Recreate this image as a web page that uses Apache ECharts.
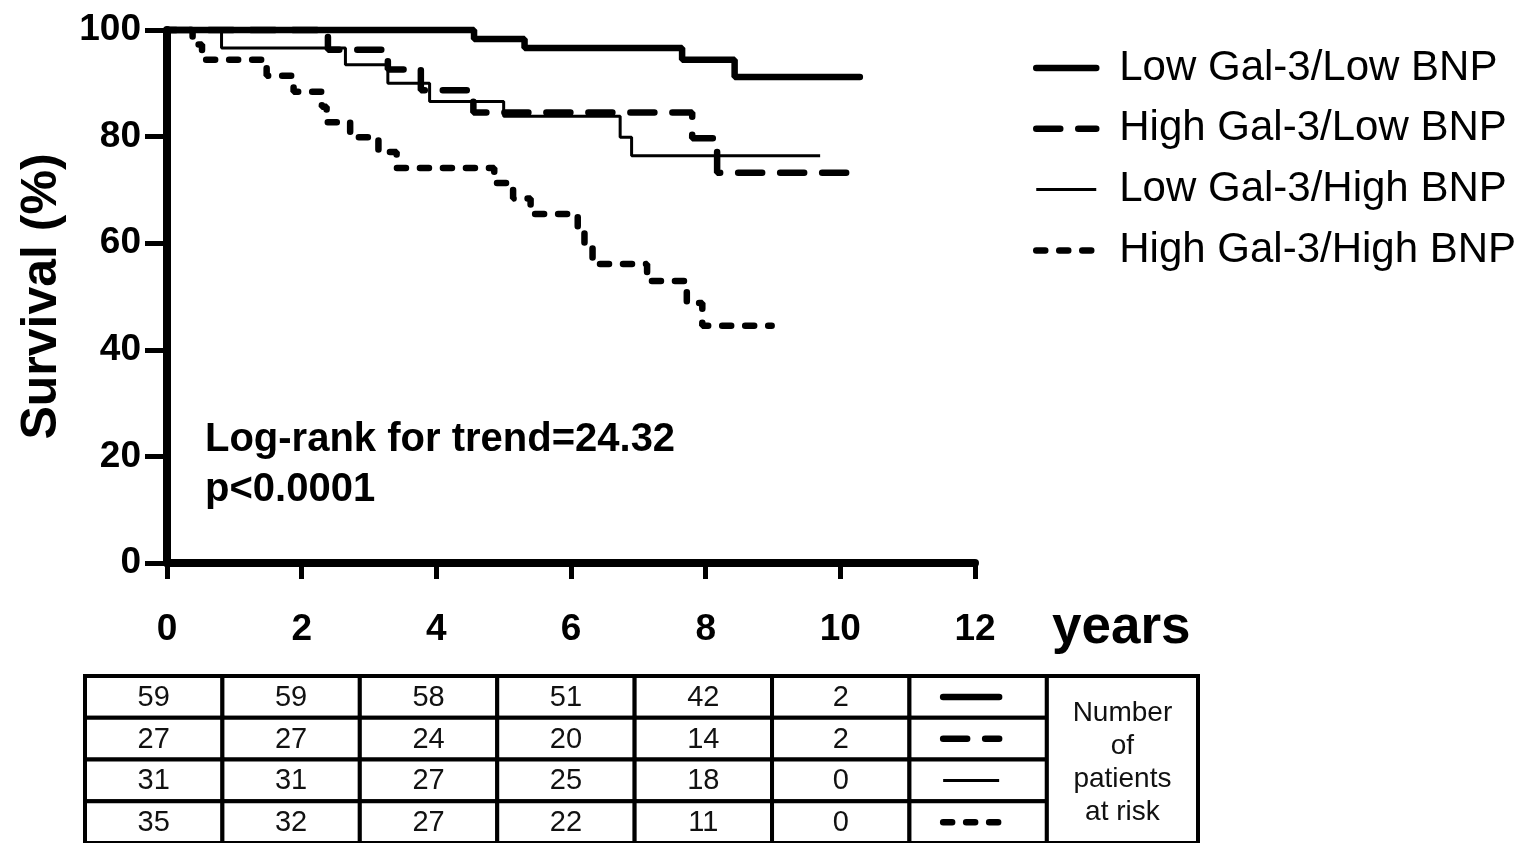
<!DOCTYPE html>
<html><head><meta charset="utf-8">
<script src="https://cdn.jsdelivr.net/npm/echarts@6/dist/echarts.min.js"></script>
<style>html,body{margin:0;padding:0;background:#fff;}#c{width:1538px;height:843px;}</style>
</head><body><div id="c"></div>
<script>
// ---------- data ----------
const seriesNames = ['Low Gal-3/Low BNP', 'High Gal-3/Low BNP', 'Low Gal-3/High BNP', 'High Gal-3/High BNP'];
// Kaplan-Meier steps: [years, survival %] (value after the event at that time)
const lowGalLowBnp = [[0,100],[4.56,98.3],[5.31,96.6],[7.65,94.4],[8.43,91.2],[10.29,91.2]];
const highGalLowBnp = [[0,100],[2.39,96.3],[3.28,92.6],[3.77,88.7],[4.55,84.5],[7.8,79.7],[8.17,73.2],[10.27,73.2]];
const lowGalHighBnp = [[0,100],[0.81,96.6],[2.65,93.5],[3.28,90.0],[3.9,86.6],[5.0,83.8],[6.73,79.9],[6.9,76.4],[9.7,76.4]];
const highGalHighBnp = [[0,100],[0.38,97.3],[0.52,94.4],[1.48,91.4],[1.88,88.4],[2.3,85.6],[2.37,82.7],[2.72,79.9],[3.14,77.1],[3.41,74.1],[4.86,71.3],[5.14,68.4],[5.4,65.5],[6.1,62.5],[6.2,59.3],[6.32,56.1],[7.13,52.9],[7.72,48.8],[7.95,44.5],[8.98,44.5]];
const xTickValues = [0,2,4,6,8,10,12];
const yTickValues = [0,20,40,60,80,100];
const riskYears = [0,2,4,6,8,10];
const riskLowLow = [59,59,58,51,42,2];
const riskHighLow = [27,27,24,20,14,2];
const riskLowHigh = [31,31,27,25,18,0];
const riskHighHigh = [35,32,27,22,11,0];
const riskLabel = 'Number\nof\npatients\nat risk';
const yAxisTitle = 'Survival (%)';
const xAxisTitle = 'years';
const logRankText = 'Log-rank for trend=24.32';
const pValueText = 'p<0.0001';

// ---------- styles ----------
const FF = '"Liberation Sans", Arial, sans-serif';
const lineStyles = [
  {color:'#000', width:6.5, type:'solid', cap:'round'},
  {color:'#000', width:6.5, type:[24,18], cap:'round'},
  {color:'#000', width:3, type:'solid', cap:'butt'},
  {color:'#000', width:6.5, type:[9,14], cap:'round'}
];
const curves = [lowGalLowBnp, highGalLowBnp, lowGalHighBnp, highGalHighBnp];
const riskRows = [riskLowLow, riskHighLow, riskLowHigh, riskHighHigh];

// table cells built from arrays
const tableCells = [];
riskRows.forEach((row, r) => {
  row.forEach((v, c) => tableCells.push({col:c, row:r, kind:'num', text:String(v)}));
  tableCells.push({col:riskYears.length, row:r, kind:'line', style:lineStyles[r]});
});
tableCells.push({col:riskYears.length + 1, row:0, kind:'label', text:riskLabel});

const chart = echarts.init(document.getElementById('c'), null, {renderer:'canvas'});

const series = curves.map((d, i) => ({
  name: seriesNames[i],
  type: 'line',
  xAxisIndex: 0, yAxisIndex: 0,
  data: d,
  step: 'end',
  symbol: 'none',
  color: '#000',
  itemStyle: {color:'#000'},
  lineStyle: lineStyles[i],
  clip: false,
  silent: true,
  z: 3
}));

series.push({
  type: 'custom',
  xAxisIndex: 1, yAxisIndex: 1,
  clip: false,
  silent: true,
  data: tableCells.map(c => [c.col, c.row]),
  renderItem: function (params, api) {
    const cell = tableCells[params.dataIndex];
    const cs = params.coordSys;
    const size = api.size([1, 1]);
    const bandH = size[1];
    const c = api.coord([cell.col, cell.row]);
    const x0 = c[0];
    let x1 = api.coord([cell.col + 1, cell.row])[0];
    let y0 = c[1] - bandH / 2, y1 = c[1] + bandH / 2;
    if (cell.kind === 'label') { x1 = cs.x + cs.width; y0 = cs.y; y1 = cs.y + cs.height; }
    const children = [{
      type: 'rect',
      shape: {x: x0, y: y0, width: x1 - x0, height: y1 - y0},
      style: {fill: '#fff', stroke: '#000', lineWidth: 4}
    }];
    const cx = (x0 + x1) / 2, cy = (y0 + y1) / 2;
    if (cell.kind === 'num') {
      children.push({type:'text', style:{text:cell.text, x:cx, y:cy + 1, textAlign:'center', textVerticalAlign:'middle', font:'29px ' + FF, fill:'#111'}});
    } else if (cell.kind === 'line') {
      const s = cell.style;
      children.push({type:'line', shape:{x1:cx - 35, y1:cy, x2:cx + 21, y2:cy},
        style:{stroke:'#000', lineWidth:s.width, lineDash: Array.isArray(s.type) ? s.type : null, lineCap:s.cap}});
    } else {
      children.push({type:'text', style:{text:cell.text, x:cx, y:cy + 3, textAlign:'center', textVerticalAlign:'middle', font:'28px ' + FF, lineHeight:33, fill:'#111'}});
    }
    return {type:'group', children: children};
  }
});

chart.setOption({
  animation: false,
  backgroundColor: '#fff',
  grid: [
    {left:167, top:30, width:808, height:533},
    {left:85, top:676, width:1113, height:167}
  ],
  xAxis: [
    {type:'value', gridIndex:0, min:0, max:12, interval:2, offset:3,
      axisLine:{lineStyle:{color:'#000', width:8}},
      axisTick:{length:16, lineStyle:{color:'#000', width:5}},
      axisLabel:{color:'#000', fontFamily:FF, fontWeight:'bold', fontSize:37, margin:45,
        formatter: v => xTickValues.includes(v) ? String(v) : ''},
      splitLine:{show:false}},
    {type:'value', gridIndex:1, min:0, max:8.1, show:false}
  ],
  yAxis: [
    {type:'value', gridIndex:0, min:0, max:100, interval:20,
      axisLine:{show:true, lineStyle:{color:'#000', width:8}},
      axisTick:{show:true, length:22, lineStyle:{color:'#000', width:5}},
      axisLabel:{color:'#000', fontFamily:FF, fontWeight:'bold', fontSize:37, margin:26,
        formatter: v => yTickValues.includes(v) ? String(v) : ''},
      splitLine:{show:false},
      name: yAxisTitle, nameLocation:'middle', nameGap:100,
      nameTextStyle:{color:'#000', fontFamily:FF, fontWeight:'bold', fontSize:50}},
    {type:'category', gridIndex:1, inverse:true, data:seriesNames, show:false}
  ],
  legend: {
    data: seriesNames.map((n, i) => ({
      name: n,
      itemStyle: {opacity: 0},
      lineStyle: {color:'#000', width: lineStyles[i].width, type: lineStyles[i].type, cap: lineStyles[i].cap, opacity: 1}
    })),
    orient: 'vertical',
    left: 1028, top: 41,
    itemWidth: 60, itemHeight: 14, itemGap: 16.8,
    selectedMode: false,
    textStyle: {color:'#000', fontFamily:FF, fontSize:42, lineHeight:44, padding:[0,0,0,18]}
  },
  graphic: [
    {type:'text', left:1052, top:602, style:{text:xAxisTitle, font:'bold 53px ' + FF, fill:'#000'}},
    {type:'text', left:205, top:420, style:{text:logRankText, font:'bold 40px ' + FF, fill:'#000'}},
    {type:'text', left:205, top:470, style:{text:pValueText, font:'bold 40px ' + FF, fill:'#000'}}
  ],
  series: series
});
</script></body></html>
